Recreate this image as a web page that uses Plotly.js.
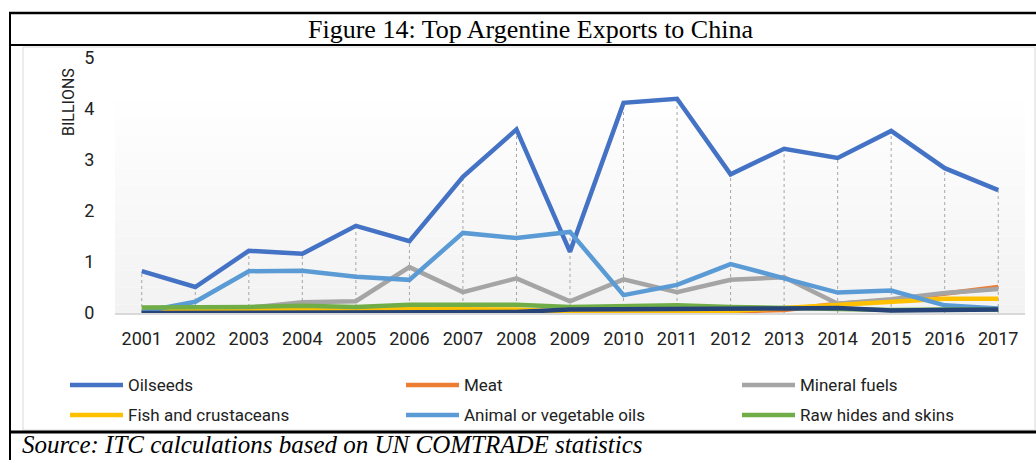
<!DOCTYPE html>
<html>
<head>
<meta charset="utf-8">
<script src="https://cdn.plot.ly/plotly-3.0.1.min.js"></script>
<style>
html,body{margin:0;padding:0;background:#fff;}
#chart{width:1036px;height:460px;}
</style>
</head>
<body>
<div id="chart"></div>
<script>
// ---- data (billions USD) ----
const years = ['2001','2002','2003','2004','2005','2006','2007','2008','2009','2010','2011','2012','2013','2014','2015','2016','2017'];
const oilseeds   = [0.82,0.51,1.22,1.16,1.71,1.41,2.67,3.60,1.20,4.12,4.20,2.72,3.22,3.04,3.57,2.84,2.41];
const meat       = [0.01,0.01,0.01,0.01,0.01,0.01,0.01,0.02,0.02,0.02,0.03,0.03,0.06,0.18,0.25,0.37,0.51];
const mineral    = [0.02,0.03,0.10,0.21,0.23,0.90,0.41,0.68,0.23,0.66,0.41,0.65,0.70,0.18,0.27,0.39,0.47];
const fish       = [0.05,0.05,0.05,0.05,0.06,0.08,0.08,0.07,0.02,0.02,0.03,0.04,0.10,0.16,0.22,0.28,0.28];
const animalOils = [0.02,0.22,0.82,0.83,0.71,0.65,1.57,1.47,1.59,0.35,0.55,0.96,0.68,0.40,0.44,0.15,0.09];
const rawHides   = [0.11,0.11,0.12,0.14,0.12,0.16,0.17,0.16,0.12,0.14,0.15,0.12,0.10,0.08,0.06,0.07,0.07];
const other      = [0.00,0.00,0.00,0.00,0.00,0.01,0.01,0.02,0.07,0.07,0.09,0.09,0.09,0.10,0.05,0.06,0.07];
const yTicks = [0,1,2,3,4,5];

const seriesNames = ['Oilseeds','Meat','Mineral fuels','Fish and crustaceans','Animal or vegetable oils','Raw hides and skins','Other'];
const seriesData = [oilseeds, meat, mineral, fish, animalOils, rawHides, other];
const seriesColors = ['#4472C4','#ED7D31','#A5A5A5','#FFC000','#5B9BD5','#70AD47','#264478'];
const seriesLegend = [true,true,true,true,true,true,false];

// ---- geometry helpers ----
const W = 1036, H = 460;
const M = {l:115, r:11, t:58, b:147};
const PW = W - M.l - M.r, PH = H - M.t - M.b;
const px = x => (x - M.l) / PW;
const py = y => (H - M.b - y) / PH;

// drop lines from highest value at each year to zero
const dropX = [], dropY = [];
years.forEach((yr, i) => {
  const mx = Math.max(...seriesData.map(s => s[i]));
  dropX.push(yr, yr, null);
  dropY.push(0, mx, null);
});

const traces = [{
  x: dropX, y: dropY, type: 'scatter', mode: 'lines',
  line: {color: '#a6a6a6', width: 1, dash: 'dot'},
  showlegend: false, hoverinfo: 'skip'
}];
seriesData.forEach((d, i) => {
  traces.push({
    x: years, y: d, name: seriesNames[i], type: 'scatter', mode: 'lines',
    line: {color: seriesColors[i], width: 4.5},
    showlegend: false
  });
});

// gradient background of plot area
const shapes = [];
const N = 30;
for (let k = 0; k < N; k++) {
  const t0 = k / N, t1 = (k + 1) / N;
  const f = (k + 0.5) / N; // 0 bottom .. 1 top
  const g = Math.round(242 + (255 - 242) * Math.min(1, f * 1.15));
  shapes.push({type:'rect', xref:'paper', yref:'paper', x0:0, x1:1, y0:t0, y1:t1,
    fillcolor:`rgb(${g},${g},${g})`, line:{width:0}, layer:'below'});
}
// chart area light border
shapes.push({type:'rect', xref:'paper', yref:'paper', x0:px(23), x1:px(1035), y0:py(430), y1:py(47),
  line:{color:'#d9d9d9', width:1}, fillcolor:'rgba(0,0,0,0)', layer:'below'});
// figure frame lines
const black = (x0,y0,x1,y1,w) => shapes.push({type:'line', xref:'paper', yref:'paper',
  x0:px(x0), x1:px(x1), y0:py(y0), y1:py(y1), line:{color:'#000', width:w}});
black(9,13,1036,13,2.5);
black(9,45,1036,45,2);
black(10,12,10,460,2);
black(9,432,1036,432,3);

const annotations = [
  {text: 'Figure 14: Top Argentine Exports to China', xref:'paper', yref:'paper',
   x: px(530), y: py(30), xanchor:'center', yanchor:'middle', showarrow:false,
   font:{family:'"Liberation Serif", "Times New Roman", serif', size:26, color:'#000'}},
  {text: 'BILLIONS', xref:'paper', yref:'paper', x: px(68), y: py(102),
   xanchor:'center', yanchor:'middle', textangle:-90, showarrow:false,
   font:{family:'Roboto, sans-serif', size:16, color:'#222'}},
  {text: '<i>Source: ITC calculations based on UN COMTRADE statistics</i>', xref:'paper', yref:'paper',
   x: px(21), y: py(444), xanchor:'left', yanchor:'middle', showarrow:false, borderpad:0,
   font:{family:'"Liberation Serif", "Times New Roman", serif', size:25, color:'#000'}}
];

// legend (3 columns x 2 rows) drawn from the series list
let li = 0;
seriesNames.forEach((name, i) => {
  if (!seriesLegend[i]) return;
  const col = li % 3, row = Math.floor(li / 3);
  const x0 = 70 + col * 336, yy = 385 + row * 30;
  shapes.push({type:'line', xref:'paper', yref:'paper', x0:px(x0), x1:px(x0 + 53), y0:py(yy), y1:py(yy),
    line:{color: seriesColors[i], width: 4.5}});
  annotations.push({text: name, xref:'paper', yref:'paper', x: px(x0 + 56), y: py(yy),
    xanchor:'left', yanchor:'middle', showarrow:false,
    font:{family:'Roboto, sans-serif', size:17, color:'#222'}});
  li++;
});

const layout = {
  width: W, height: H,
  margin: M,
  paper_bgcolor: '#ffffff',
  plot_bgcolor: 'rgba(0,0,0,0)',
  showlegend: false,
  font: {family: 'Roboto, "Open Sans", sans-serif', color: '#404040'},
  xaxis: {
    type: 'category', range: [-0.5, 16.5],
    showgrid: false, zeroline: false,
    showline: true, linecolor: '#d9d9d9', linewidth: 2,
    ticks: 'outside', ticklen: 8, tickcolor: 'rgba(0,0,0,0)',
    tickfont: {size: 18, color: '#222'}
  },
  yaxis: {
    range: [0, 5], tickvals: yTicks, ticktext: yTicks.map(String),
    showgrid: false, zeroline: false, showline: false,
    ticks: 'outside', ticklen: 16, tickcolor: 'rgba(0,0,0,0)',
    tickfont: {size: 18, color: '#222'}
  },
  shapes: shapes,
  annotations: annotations
};

Plotly.newPlot('chart', traces, layout, {displayModeBar: false, staticPlot: true});
</script>
</body>
</html>
